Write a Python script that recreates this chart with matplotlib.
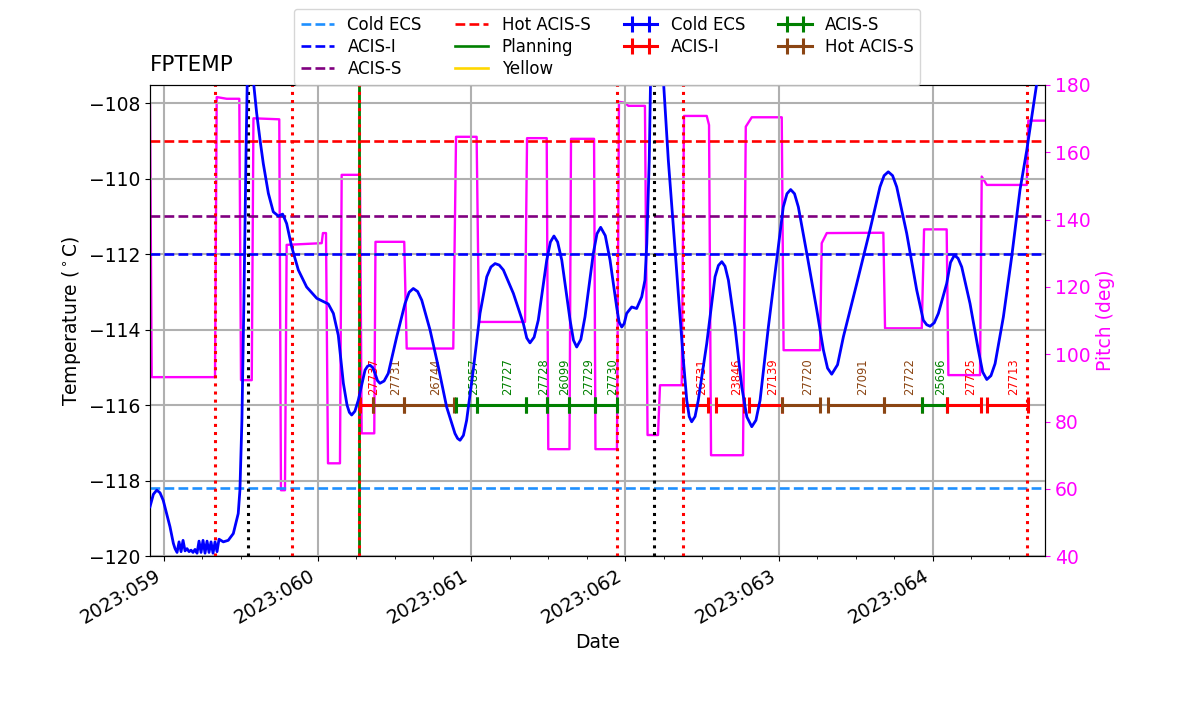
import matplotlib
matplotlib.use("Agg")
import matplotlib.pyplot as plt
from matplotlib.lines import Line2D
from matplotlib.ticker import MultipleLocator, FuncFormatter

# --- FPTEMP model (2023 day-of-year, deg C) ---
temp_days = [
    58.909, 58.931, 58.953, 58.974, 58.995, 59.039, 59.061, 59.072, 59.085, 59.098,
    59.111, 59.124, 59.137, 59.150, 59.163, 59.176, 59.189, 59.202, 59.215, 59.228,
    59.241, 59.254, 59.267, 59.280, 59.293, 59.306, 59.319, 59.332, 59.345, 59.358,
    59.386, 59.418, 59.451, 59.483, 59.494, 59.507, 59.520, 59.534, 59.543, 59.556,
    59.569, 59.581, 59.603, 59.625, 59.646, 59.679, 59.711, 59.744, 59.772, 59.798,
    59.831, 59.874, 59.928, 59.994, 60.069, 60.102, 60.134, 60.167, 60.191, 60.206,
    60.221, 60.242, 60.264, 60.308, 60.324, 60.340, 60.357, 60.373, 60.389, 60.405,
    60.432, 60.459, 60.514, 60.568, 60.595, 60.622, 60.650, 60.677, 60.731, 60.785,
    60.839, 60.893, 60.910, 60.926, 60.948, 60.969, 61.012, 61.056, 61.100, 61.127,
    61.154, 61.181, 61.208, 61.273, 61.338, 61.360, 61.381, 61.408, 61.435, 61.490,
    61.514, 61.537, 61.561, 61.588, 61.642, 61.664, 61.685, 61.712, 61.739, 61.793,
    61.817, 61.841, 61.871, 61.902, 61.945, 61.961, 61.978, 61.994, 62.010, 62.043,
    62.075, 62.108, 62.129, 62.141, 62.151, 62.157, 62.165, 62.209, 62.249, 62.281,
    62.314, 62.346, 62.379, 62.401, 62.417, 62.433, 62.455, 62.476, 62.531, 62.585,
    62.607, 62.629, 62.650, 62.672, 62.715, 62.759, 62.792, 62.824, 62.851, 62.878,
    62.932, 62.986, 63.029, 63.053, 63.077, 63.102, 63.127, 63.182, 63.247, 63.290,
    63.317, 63.344, 63.382, 63.420, 63.507, 63.593, 63.658, 63.685, 63.712, 63.740,
    63.767, 63.832, 63.897, 63.940, 63.962, 63.984, 64.011, 64.038, 64.092, 64.117,
    64.142, 64.166, 64.190, 64.244, 64.298, 64.326, 64.353, 64.380, 64.407, 64.461,
    64.515, 64.569, 64.613, 64.678, 64.732,
]
temp_vals = [
    -118.69, -118.36, -118.25, -118.32, -118.52, -119.22, -119.66, -119.80, -119.90, -119.62,
    -119.88, -119.58, -119.86, -119.80, -119.88, -119.84, -119.90, -119.82, -119.92, -119.60,
    -119.90, -119.58, -119.92, -119.60, -119.90, -119.62, -119.92, -119.62, -119.88, -119.55,
    -119.62, -119.58, -119.40, -118.87, -118.25, -116.40, -113.22, -109.25, -107.10, -105.50,
    -107.00, -107.39, -108.27, -108.98, -109.60, -110.39, -110.88, -110.99, -110.94, -111.19,
    -111.81, -112.42, -112.87, -113.17, -113.32, -113.57, -114.15, -115.42, -116.00, -116.19,
    -116.26, -116.16, -115.87, -115.07, -114.97, -114.94, -115.00, -115.16, -115.35, -115.42,
    -115.36, -115.16, -114.19, -113.31, -113.01, -112.91, -112.99, -113.22, -114.01, -114.99,
    -116.05, -116.75, -116.88, -116.93, -116.80, -116.40, -115.07, -113.57, -112.60, -112.34,
    -112.25, -112.29, -112.42, -113.04, -113.84, -114.22, -114.35, -114.20, -113.75, -112.16,
    -111.68, -111.52, -111.68, -112.16, -113.75, -114.28, -114.46, -114.26, -113.66, -111.98,
    -111.46, -111.29, -111.51, -112.16, -113.40, -113.80, -113.93, -113.84, -113.57, -113.40,
    -113.44, -113.13, -112.69, -111.72, -110.39, -109.51, -107.52, -104.00, -107.39, -109.51,
    -111.28, -113.04, -114.81, -115.87, -116.30, -116.44, -116.30, -115.87, -114.37, -112.60,
    -112.30, -112.20, -112.32, -112.69, -113.93, -115.52, -116.31, -116.57, -116.40, -115.87,
    -113.93, -112.16, -110.75, -110.40, -110.29, -110.40, -110.75, -111.98, -113.48, -114.54,
    -115.02, -115.18, -114.93, -114.19, -112.78, -111.36, -110.22, -109.92, -109.82, -109.92,
    -110.22, -111.45, -112.95, -113.75, -113.87, -113.91, -113.82, -113.57, -112.78, -112.22,
    -112.03, -112.11, -112.34, -113.31, -114.54, -115.12, -115.32, -115.22, -114.90, -113.66,
    -112.07, -110.30, -109.25, -107.48, -106.30,
]

# --- Pitch (deg) ---
pitch_days = [
    58.909, 58.920, 59.332, 59.343, 59.408, 59.490, 59.501, 59.571, 59.582, 59.750,
    59.761, 59.787, 59.798, 60.026, 60.034, 60.054, 60.067, 60.145, 60.156, 60.275,
    60.286, 60.368, 60.376, 60.563, 60.579, 60.882, 60.900, 61.034, 61.049, 61.349,
    61.362, 61.490, 61.500, 61.638, 61.648, 61.798, 61.807, 61.947, 61.960, 61.999,
    62.021, 62.129, 62.146, 62.214, 62.227, 62.368, 62.383, 62.531, 62.546, 62.559,
    62.767, 62.785, 62.824, 63.019, 63.031, 63.268, 63.279, 63.312, 63.680, 63.691,
    63.930, 63.945, 64.092, 64.103, 64.309, 64.320, 64.353, 64.613, 64.623, 64.732,
]
pitch_vals = [
    174.0, 93.2, 93.2, 176.4, 175.9, 175.9, 92.3, 92.3, 170.1, 169.8,
    59.6, 59.6, 132.5, 133.0, 136.0, 136.0, 67.6, 67.6, 153.3, 153.3,
    76.5, 76.5, 133.4, 133.4, 101.7, 101.7, 164.6, 164.6, 109.6, 109.6,
    164.2, 164.2, 71.8, 71.8, 164.0, 164.0, 71.8, 71.8, 175.0, 174.7,
    173.8, 173.8, 76.0, 76.0, 90.8, 90.8, 170.8, 170.8, 168.1, 70.0,
    70.0, 167.6, 170.4, 170.4, 101.2, 101.2, 133.0, 136.0, 136.1, 107.7,
    107.7, 137.1, 137.1, 93.8, 93.8, 152.8, 150.3, 150.3, 169.4, 169.4,
]

# --- Limits ---
limit_names  = ["Cold ECS", "ACIS-I", "ACIS-S", "Hot ACIS-S"]
limit_vals   = [-118.2, -112.0, -111.0, -109.0]
limit_colors = ["dodgerblue", "blue", "purple", "red"]

# --- Observations ---
obs_ids = ["27737", "27731", "26744", "25857", "27727", "27728", "26099", "27729", "27730",
           "26731", "23846", "27139", "27720", "27091", "27722", "25696", "27725", "27713"]
obs_start = [60.275, 60.362, 60.562, 60.900, 61.038, 61.355, 61.494, 61.637, 61.804,
             62.379, 62.593, 62.809, 63.022, 63.323, 63.686, 63.934, 64.092, 64.353]
obs_stop = [60.362, 60.562, 60.887, 61.038, 61.355, 61.494, 61.637, 61.804, 61.949,
            62.536, 62.772, 63.022, 63.271, 63.686, 63.934, 64.092, 64.314, 64.619]
obs_mode = ["ACIS-I", "Hot ACIS-S", "Hot ACIS-S", "ACIS-S", "ACIS-S", "ACIS-S", "ACIS-S", "ACIS-S", "ACIS-S",
            "ACIS-I", "ACIS-I", "ACIS-I", "Hot ACIS-S", "Hot ACIS-S", "Hot ACIS-S", "ACIS-S", "ACIS-I", "ACIS-I"]
OBS_LEVEL = -116.0

# --- Vertical markers ---
red_lines   = [59.332, 59.835, 60.271, 61.949, 62.379, 64.617]
black_lines = [59.548, 62.190]
green_lines = [60.271]

mode_order  = ["Cold ECS", "ACIS-I", "ACIS-S", "Hot ACIS-S"]
mode_colors = {"Cold ECS": "blue", "ACIS-I": "red", "ACIS-S": "green", "Hot ACIS-S": "saddlebrown"}

fig = plt.figure(figsize=(12, 7.14), dpi=100)
fig.subplots_adjust(left=0.125, right=0.871, bottom=0.221, top=0.881)
ax = fig.add_subplot(111)
ax2 = ax.twinx()
ax.set_zorder(ax2.get_zorder() + 1)
ax.patch.set_visible(False)

# pitch on the right axis
ax2.plot(pitch_days, pitch_vals, color="magenta", lw=1.7)
ax2.set_ylim(40, 180)
ax2.set_ylabel("Pitch (deg)", color="magenta", fontsize=13.5)
ax2.tick_params(axis="y", colors="magenta", labelsize=13.5)
ax2.spines["right"].set_color("black")

handles = []
for name, val, col in zip(limit_names, limit_vals, limit_colors):
    handles.append(ax.axhline(val, color=col, ls="--", lw=1.9, label=name))
handles.append(Line2D([], [], color="green", lw=1.9, label="Planning"))
handles.append(Line2D([], [], color="gold", lw=1.9, label="Yellow"))

for x in green_lines:
    ax.axvline(x, color="green", lw=2)
for x in red_lines:
    ax.axvline(x, color="red", ls=":", lw=2.2)
for x in black_lines:
    ax.axvline(x, color="black", ls=":", lw=2.2)

# observation bars, one errorbar per obsid
mode_handles = {}
for i, obsid in enumerate(obs_ids):
    mode = obs_mode[i]
    col = mode_colors[mode]
    mid = (obs_start[i] + obs_stop[i]) / 2
    half = (obs_stop[i] - obs_start[i]) / 2
    eb = ax.errorbar([mid], [OBS_LEVEL], xerr=[half], color=col, lw=2.2,
                     capsize=5.5, capthick=2.2)
    mode_handles.setdefault(mode, eb)
    ax.text(mid, OBS_LEVEL + 0.27, obsid, rotation=90, ha="left", va="bottom",
            fontsize=8.3, color=col)
for mode in mode_order:
    if mode not in mode_handles:
        mode_handles[mode] = ax.errorbar([float("nan")], [float("nan")], xerr=[float("nan")],
                                         color=mode_colors[mode], lw=2.2, capsize=5.5, capthick=2.2)
    handles.append(mode_handles[mode])
labels = limit_names + ["Planning", "Yellow"] + mode_order

ax.plot(temp_days, temp_vals, color="blue", lw=2.0, zorder=5)

ax.set_xlim(58.909, 64.733)
ax.set_ylim(-120, -107.52)
ax.xaxis.set_major_locator(MultipleLocator(1))
ax.xaxis.set_minor_locator(MultipleLocator(0.25))
ax.xaxis.set_major_formatter(FuncFormatter(lambda v, p: f"2023:{int(round(v)):03d}"))
ax.yaxis.set_major_locator(MultipleLocator(2))
ax.grid(True, color="#b0b0b0", lw=1.5)
ax.tick_params(labelsize=13.5)
for lab in ax.get_xticklabels():
    lab.set_rotation(30)
    lab.set_ha("right")

ax.set_xlabel("Date", fontsize=13.5)
ax.set_ylabel("Temperature ($^\\circ$C)", fontsize=13.5)
ax.set_title("FPTEMP", loc="left", fontsize=15.5, pad=10)

fig.legend(handles=handles, labels=labels, loc="upper center",
           bbox_to_anchor=(0.506, 0.999), ncol=4, fontsize=12, labelspacing=0.25)

fig.savefig("out.png", dpi=100)
